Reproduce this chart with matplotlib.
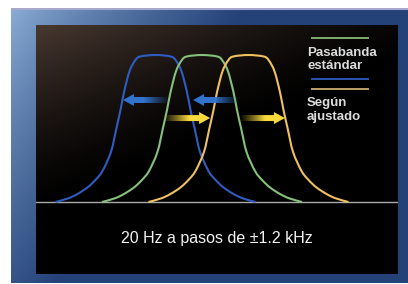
import numpy as np
import matplotlib
matplotlib.use("Agg")
import matplotlib.pyplot as plt
from matplotlib.path import Path
from matplotlib.patches import PathPatch, Polygon
from matplotlib.lines import Line2D

plt.rcParams['font.family'] = ['Liberation Sans', 'DejaVu Sans']

# ---- datos ----
centros = [-1.2, 0.0, 1.2]                 # kHz: azul / verde / amarillo
colores = ['#2f5cc0', '#86c07c', '#eec060']
# medio perfil de la banda de paso (desplazamiento kHz, altura relativa)
perfil_x = [0.0, 0.39, 0.52, 0.67, 0.81, 0.90, 1.01, 1.15, 1.37, 1.55, 1.75, 2.01, 2.25, 2.58]
perfil_y = [1.0, 0.99, 0.965, 0.89, 0.75, 0.63, 0.50, 0.34, 0.21, 0.15, 0.10, 0.055, 0.025, 0.0]

# flechas: origen -> punta
flecha_azul_ini = [-0.85, 0.98]
flecha_azul_fin = [-2.04, -0.23]
flecha_azul_y = 0.694
flecha_amar_ini = [-1.0, 0.98]
flecha_amar_fin = [0.21, 2.14]
flecha_amar_y = 0.571

leyenda_1 = ['Pasabanda', 'estándar']
leyenda_2 = ['Según', 'ajustado']
texto_inferior = '20 Hz a pasos de ±1.2 kHz'

W, H = 408, 284
fig = plt.figure(figsize=(W / 100, H / 100), dpi=100)
fig.patch.set_facecolor('white')


def fx(px):
    return px / W


def fy(py):
    return 1 - py / H


# marco azul con degradado
marco = fig.add_axes([fx(11), fy(283), fx(408) - fx(11), fy(8) - fy(283)])
marco.axis('off')
gx, gy = np.meshgrid(np.linspace(0, 1, 200), np.linspace(0, 1, 140))
t = np.clip(gx * 1.7 + gy * 0.8, 0, 1) ** 0.8
claro = np.array([140, 175, 215]) / 255
oscuro = np.array([36, 66, 120]) / 255
img = claro[None, None, :] * (1 - t[..., None]) + oscuro[None, None, :] * t[..., None]
marco.imshow(img, extent=[0, 1, 1, 0], aspect='auto')
marco.plot([0, 1], [0.004, 0.004], color='#a8a8cc', lw=1.5)
marco.set_xlim(0, 1)
marco.set_ylim(1, 0)

# panel negro
xmin = (36 - 202) / 38.75
xmax = (398 - 202) / 38.75
ymin = (202 - 274) / 147
ymax = (202 - 25) / 147
ax = fig.add_axes([fx(36), fy(274), fx(398) - fx(36), fy(25) - fy(274)])
ax.axis('off')
px_, py_ = np.meshgrid(np.linspace(0, 1, 200), np.linspace(0, 1, 140))
tt = np.clip(px_ * 0.8 + py_ * 1.3, 0, 1)
marron = np.array([72, 56, 48]) / 255
fondo = marron[None, None, :] * ((1 - tt) ** 1.4)[..., None]
ax.imshow(fondo, extent=[xmin, xmax, ymin, ymax], aspect='auto', zorder=0)

# linea base
ax.plot([xmin, xmax], [0, 0], color='#a9a9a9', lw=1.0, zorder=2)


def curva_suave(xs, ys):
    # Catmull-Rom pasado a Bezier cubica
    p = np.column_stack([xs, ys])
    p = np.vstack([p[0], p, p[-1]])
    verts = [p[1]]
    codes = [Path.MOVETO]
    for i in range(1, len(p) - 2):
        c1 = p[i] + (p[i + 1] - p[i - 1]) / 6
        c2 = p[i + 1] - (p[i + 2] - p[i]) / 6
        verts += [c1, c2, p[i + 1]]
        codes += [Path.CURVE4] * 3
    return Path(verts, codes)


lado_x = np.array(perfil_x)
lado_y = np.array(perfil_y)
for c, col in zip(centros, colores):
    xs = np.concatenate([c - lado_x[::-1], c + lado_x[1:]])
    ys = np.concatenate([lado_y[::-1], lado_y[1:]])
    ax.add_patch(PathPatch(curva_suave(xs, ys), fill=False, edgecolor=col, lw=1.5, zorder=3))


def flecha(x0, x1, y, rgb):
    d = np.sign(x1 - x0)
    bh = 3.0 / 147
    hh = 6.0 / 147
    hl = 11 / 38.75
    xn = x1 - d * hl
    pts = [(x0, y - bh), (xn, y - bh), (xn, y - hh), (x1, y),
           (xn, y + hh), (xn, y + bh), (x0, y + bh)]
    poly = Polygon(pts, closed=True, transform=ax.transData)
    s = np.linspace(0, 1, 100)
    a = np.clip(s * 1.8, 0, 1) ** 1.1
    if d < 0:
        a = a[::-1]
    grad = np.zeros((2, 100, 4))
    grad[..., :3] = rgb
    grad[..., 3] = a
    im = ax.imshow(grad, extent=[min(x0, x1), max(x0, x1), y - hh, y + hh],
                   aspect='auto', zorder=4, interpolation='bilinear')
    im.set_clip_path(poly)


azul_f = np.array([50, 115, 205]) / 255
amar_f = np.array([248, 218, 60]) / 255
for a0, a1 in zip(flecha_azul_ini, flecha_azul_fin):
    flecha(a0, a1, flecha_azul_y, azul_f)
for a0, a1 in zip(flecha_amar_ini, flecha_amar_fin):
    flecha(a0, a1, flecha_amar_y, amar_f)

ax.set_xlim(xmin, xmax)
ax.set_ylim(ymin, ymax)

# leyenda
for yy, col in [(38, '#7fae6e'), (79, '#2a55b0'), (89, '#bfa068')]:
    fig.add_artist(Line2D([fx(312), fx(368)], [fy(yy), fy(yy)], color=col, lw=1.4))
for txt, yy in zip(leyenda_1 + leyenda_2, [53, 66, 103, 117]):
    fig.text(fx(307), fy(yy), txt, color='#dcdcdc', fontsize=9.5,
             fontweight='bold', ha='left', va='center')

fig.text(fx(217), fy(238), texto_inferior, color='#f2f2f2', fontsize=11.5,
         ha='center', va='center')

plt.savefig('out.png', dpi=100)
